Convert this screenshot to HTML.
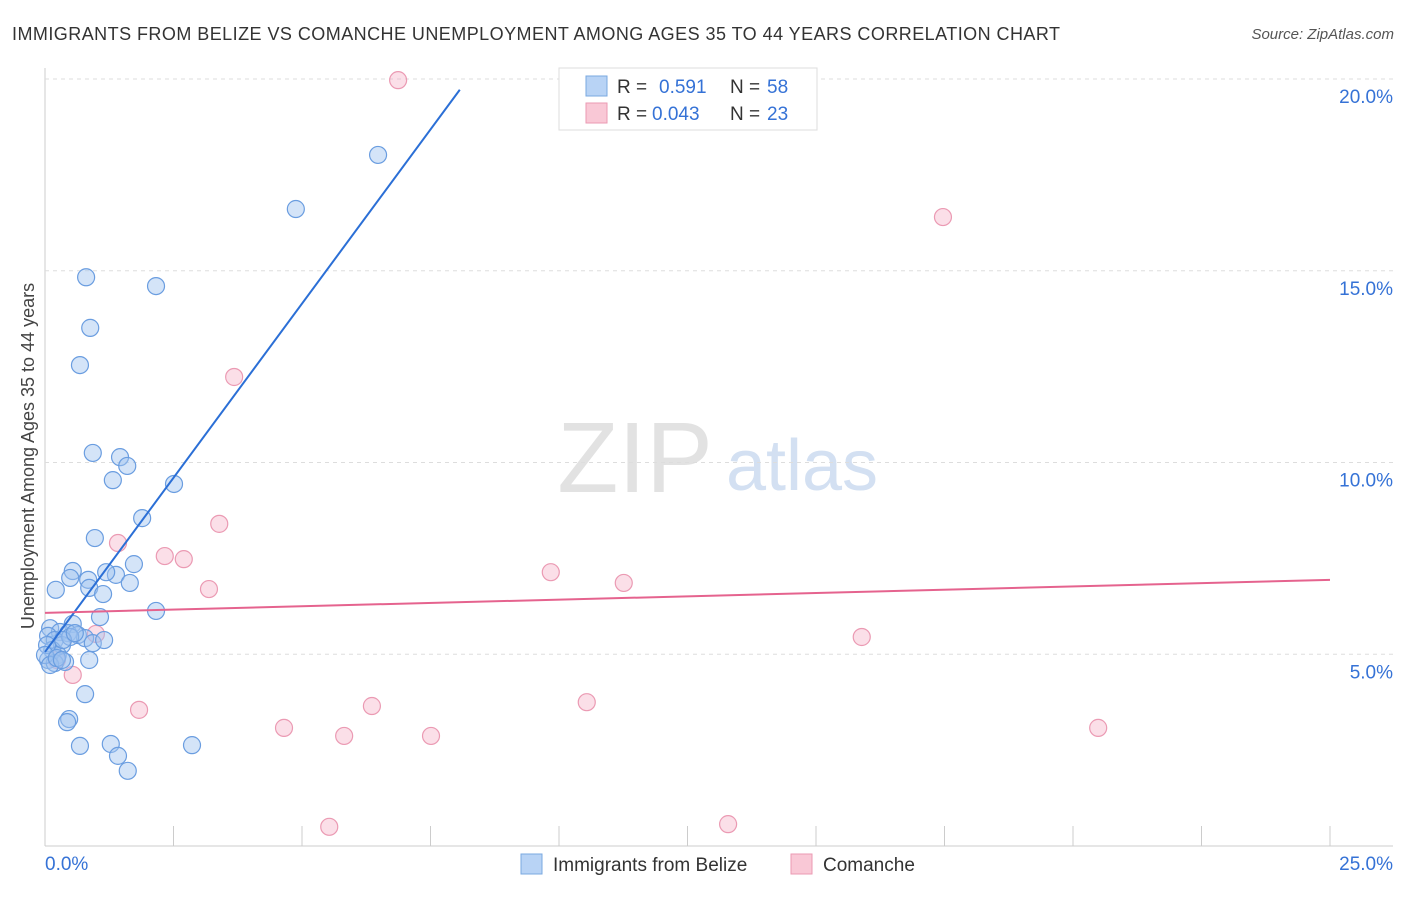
<!DOCTYPE html>
<html><head><meta charset="utf-8"><style>
body{margin:0;background:#fff;font-family:"Liberation Sans",sans-serif}
svg text{font-family:"Liberation Sans",sans-serif}
</style></head><body>
<svg id="c" width="1406" height="892">
<text x="12" y="40" font-size="18" textLength="1048" fill="#333">IMMIGRANTS FROM BELIZE VS COMANCHE UNEMPLOYMENT AMONG AGES 35 TO 44 YEARS CORRELATION CHART</text>
<text x="1394" y="39" font-size="15" fill="#555" text-anchor="end" font-style="italic">Source: ZipAtlas.com</text>
<text x="34" y="456" font-size="18" fill="#444" text-anchor="middle" transform="rotate(-90 34 456)">Unemployment Among Ages 35 to 44 years</text>
<g><text x="635" y="492" font-size="100" fill="#e2e2e2" text-anchor="middle" font-family="Liberation Serif">ZIP</text><text x="802" y="490" font-size="72" fill="#d3e0f2" text-anchor="middle">atlas</text></g>
<g id="grid"></g><g id="marks"></g>
<g>
<rect x="559" y="68" width="258" height="62" fill="#fff" stroke="#ddd"/>
<rect x="586" y="76" width="21" height="20" fill="#b8d3f5" stroke="#7aa8e0"/>
<rect x="586" y="103" width="21" height="20" fill="#f9c8d6" stroke="#eb9ab3"/>
<text x="617" y="93" font-size="19" fill="#333">R = <tspan fill="#3572d6" x="659">0.591</tspan><tspan x="730" fill="#333">N =</tspan><tspan x="767" fill="#3572d6">58</tspan></text>
<text x="617" y="120" font-size="19" fill="#333">R = <tspan fill="#3572d6" x="652">0.043</tspan><tspan x="730" fill="#333">N =</tspan><tspan x="767" fill="#3572d6">23</tspan></text>
</g>
<g>
<rect x="521" y="854" width="21" height="20" fill="#b8d3f5" stroke="#7aa8e0"/>
<text x="553" y="871" font-size="19" fill="#333">Immigrants from Belize</text>
<rect x="791" y="854" width="21" height="20" fill="#f9c8d6" stroke="#eb9ab3"/>
<text x="823" y="871" font-size="19" fill="#333">Comanche</text>
</g>
</svg>
<script>
const yTicks=[5,10,15,20];
const yTickLabels=["5.0%","10.0%","15.0%","20.0%"];
const xTickLabels=["0.0%","25.0%"];
const belizeX=[6.48,4.88,0.80,2.16,0.88,0.68,0.93,1.46,1.60,1.32,2.51,1.89,0.97,1.73,0.54,0.49,0.84,1.38,1.19,1.65,0.86,1.13,0.21,2.16,1.07,0.54,0.10,0.29,0.45,0.64,0.78,0.93,0.06,0.19,0.33,0.49,0.14,0.25,0.39,0.06,0.19,0.86,0.78,0.47,0.43,0.68,1.28,2.86,1.42,1.61,0.04,0.35,0.0,0.10,0.23,0.33,0.58,1.15];
const belizeY=[18.02,16.61,14.83,14.60,13.51,12.54,10.25,10.14,9.91,9.54,9.44,8.55,8.03,7.35,7.17,6.99,6.94,7.07,7.14,6.86,6.73,6.57,6.68,6.13,5.97,5.79,5.68,5.58,5.55,5.50,5.42,5.29,5.48,5.37,5.24,5.45,5.11,4.98,4.80,4.85,4.77,4.85,3.96,3.31,3.23,2.61,2.66,2.63,2.35,1.96,5.24,5.37,4.98,4.72,4.90,4.85,5.55,5.37];
const comX=[6.87,17.47,3.68,3.39,1.42,2.33,2.70,3.19,9.84,11.26,0.99,15.89,0.23,0.54,1.83,6.36,10.54,4.65,5.82,7.51,20.49,5.53,13.29];
const comY=[19.97,16.40,12.23,8.40,7.90,7.56,7.48,6.70,7.14,6.86,5.53,5.45,4.85,4.46,3.55,3.65,3.75,3.08,2.87,2.87,3.08,0.50,0.57];
const belizeLine=[[0,5.06],[8.07,19.72]];
const comLine=[[0,6.08],[25,6.94]];
const X=v=>45+v/25*1285, Y=v=>846-v/5*191.75;
const NS="http://www.w3.org/2000/svg";
function mk(p,t,a){const e=document.createElementNS(NS,t);for(const k in a)e.setAttribute(k,a[k]);p.appendChild(e);return e;}
const g=document.getElementById('grid'),m=document.getElementById('marks');
let ax=mk(g,'line',{x1:45,y1:68,x2:45,y2:846,stroke:'#ccc'});

let bx=mk(g,'line',{x1:45,y1:846,x2:1393,y2:846,stroke:'#ccc'});

for(let i=1;i<=10;i++){const t=mk(g,'line',{x1:X(i*2.5),x2:X(i*2.5),y1:826,y2:846,stroke:'#ccc'});
}
yTicks.forEach((v,i)=>{const l=mk(g,'line',{x1:45,x2:1393,y1:Y(v),y2:Y(v),stroke:'#ddd','stroke-dasharray':'4,4'});

const t=mk(g,'text',{x:1393,y:Y(v)+24,'font-size':19,fill:'#3572d6','text-anchor':'end'});t.textContent=yTickLabels[i];
});
[[0,'start',45],[1,'end',1393]].forEach(([i,a,x])=>{const t=mk(g,'text',{x:x,y:870,'font-size':19,fill:'#3572d6','text-anchor':a});t.textContent=xTickLabels[i];
});
comX.forEach((v,i)=>{const c=mk(m,'circle',{cx:X(v),cy:Y(comY[i]),r:8.5,fill:'rgba(246,175,198,0.4)',stroke:'#eb9ab3','stroke-width':1.2});
});
belizeX.forEach((v,i)=>{const c=mk(m,'circle',{cx:X(v),cy:Y(belizeY[i]),r:8.5,fill:'rgba(160,196,240,0.45)',stroke:'#6a9de0','stroke-width':1.2});
});
let l1=mk(m,'line',{x1:X(belizeLine[0][0]),y1:Y(belizeLine[0][1]),x2:X(belizeLine[1][0]),y2:Y(belizeLine[1][1]),stroke:'#2b6fd6','stroke-width':2});

let l2=mk(m,'line',{x1:X(comLine[0][0]),y1:Y(comLine[0][1]),x2:X(comLine[1][0]),y2:Y(comLine[1][1]),stroke:'#e5638e','stroke-width':2});

</script>
</body></html>
